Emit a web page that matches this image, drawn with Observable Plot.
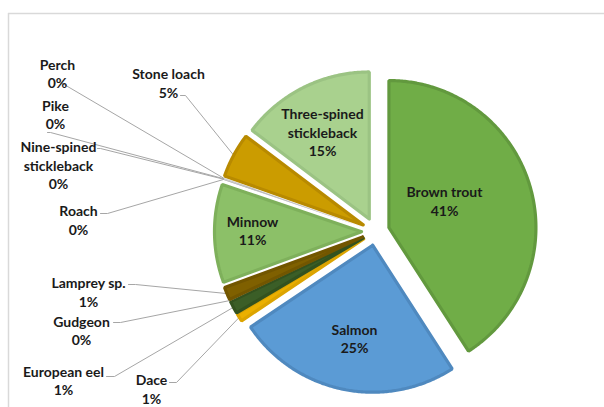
<!DOCTYPE html>
<html><head><meta charset="utf-8">
<script src="https://cdn.jsdelivr.net/npm/d3@7"></script>
<script src="https://cdn.jsdelivr.net/npm/@observablehq/plot@0.6"></script>
<style>html,body{margin:0;padding:0;background:#fff} svg{display:block}</style>
</head><body><div id="chart"></div>
<script>
// ---- data (clockwise from 12 o'clock) ----
const species = ["Brown trout","Salmon","Dace","European eel","Gudgeon","Lamprey sp.","Minnow","Roach","Nine-spined stickleback","Pike","Perch","Stone loach","Three-spined stickleback"];
const shares  = [40.9, 24.7, 0.9, 1.4, 0.1, 1.4, 10.8, 0.05, 0.05, 0.05, 0.05, 4.9, 14.7];
const labelNames = ["Brown trout","Salmon","Dace","European eel","Gudgeon","Lamprey sp.","Minnow","Roach","Nine-spined\nstickleback","Pike","Perch","Stone loach","Three-spined\nstickleback"];
const fills   = ["#70ad47","#5b9bd5","#ebb000","#3b5e27","#9e9e9e","#7f6000","#8cc068","#a0a0a0","#a0a0a0","#a0a0a0","#a0a0a0","#cb9c00","#a9d18e"];
const strokes = ["#62993e","#4f89bf","#dca400","#33521f","#9e9e9e","#725600","#7eb05b","#a0a0a0","#a0a0a0","#a0a0a0","#a0a0a0","#b88a00","#9bc383"];

// ---- layout ----
const W = 604, H = 407, ML = 8, MT = 13;
const CX = 375, CY = 231, R = 147, EXPLODE = 14;
const labelPos = [[444,200],[354,337.5],[151,388],[63,379.5],[81,329.5],[88,291],[252,229.5],[78,219],[58,164.5],[55,113.5],[57,72.5],[168,82],[322,131.5]];
const leaderStart = [null, null,
  [[169,382],[176,382]],
  [[106,376],[114,376]],
  [[113,322],[120,322]],
  [[128,284],[135,284]],
  null,
  [[100,213],[107,213]],
  [[97,148],[100,148]],
  [[47,132],[50,132]],
  [[62,83]],
  [[180,95],[185,95]],
  null];

const ux = px => (px - CX) / R;
const uy = py => (CY - py) / R;
const e = EXPLODE / R;

const total = d3.sum(shares);
const arcs = d3.pie().sort(null).value(d => d)(shares);

// slice polygons
const slicePts = [];
arcs.forEach((a, i) => {
  const mid = (a.startAngle + a.endAngle) / 2;
  const ox = e * Math.sin(mid), oy = e * Math.cos(mid);
  const base = {id: species[i], fill: fills[i], stroke: strokes[i], sw: shares[i] < 0.5 ? 0 : 3.2};
  slicePts.push({...base, x: ox, y: oy});
  const n = Math.max(2, Math.ceil((a.endAngle - a.startAngle) / 0.01));
  for (let k = 0; k <= n; k++) {
    const t = a.startAngle + (a.endAngle - a.startAngle) * k / n;
    slicePts.push({...base, x: ox + Math.sin(t), y: oy + Math.cos(t)});
  }
  slicePts.push({...base, x: ox, y: oy});
});

// leader lines
const leaderPts = [];
arcs.forEach((a, i) => {
  if (!leaderStart[i]) return;
  const mid = (a.startAngle + a.endAngle) / 2;
  leaderStart[i].forEach(([px, py]) => leaderPts.push({id: species[i], x: ux(px), y: uy(py)}));
  leaderPts.push({id: species[i], x: (1 + e) * Math.sin(mid), y: (1 + e) * Math.cos(mid)});
});

// labels
const labels = arcs.map((a, i) => ({
  x: ux(labelPos[i][0]), y: uy(labelPos[i][1]),
  text: labelNames[i] + "\n" + Math.round(shares[i] / total * 100) + "%"
}));

const chart = Plot.plot({
  width: W, height: H,
  marginLeft: ML, marginTop: MT, marginRight: 0, marginBottom: 0,
  x: {domain: [ux(ML), ux(W)], axis: null},
  y: {domain: [uy(H), uy(MT)], axis: null},
  color: {type: "identity"},
  style: {background: "#fff", overflow: "visible"},
  marks: [
    Plot.ruleY([uy(MT)], {stroke: "#d9d9d9", strokeWidth: 1.5}),
    Plot.ruleX([ux(ML)], {stroke: "#d9d9d9", strokeWidth: 1.5}),
    Plot.line(leaderPts, {x: "x", y: "y", z: "id", stroke: "#a6a6a6", strokeWidth: 1, curve: "linear"}),
    Plot.line(slicePts, {x: "x", y: "y", z: "id", fill: "fill", stroke: "stroke", strokeWidth: "sw", strokeLinejoin: "miter", curve: "linear"}),
    Plot.text(labels, {x: "x", y: "y", text: "text", fontFamily: "Lato", fontWeight: "bold", fontSize: 14, fill: "#1a1a1a", lineHeight: 1.32, textAnchor: "middle", lineAnchor: "middle"})
  ]
});
document.getElementById("chart").appendChild(chart);
</script>
</body></html>
